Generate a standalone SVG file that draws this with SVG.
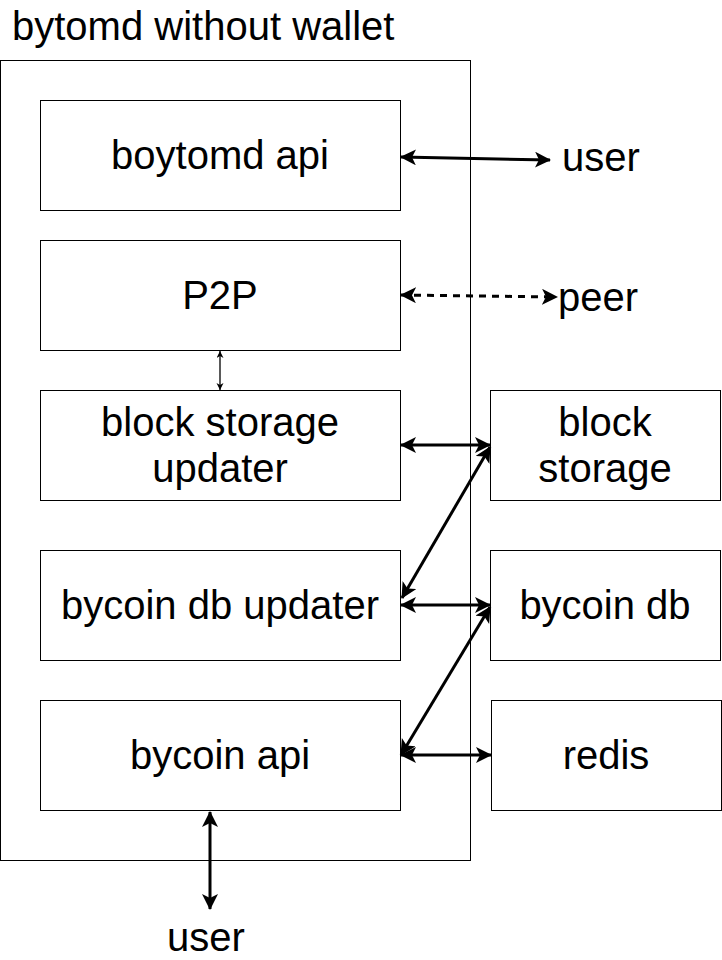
<svg xmlns="http://www.w3.org/2000/svg" width="722" height="960" viewBox="0 0 722 960">
<style>
.box{fill:#fff;stroke:#000;stroke-width:1}
.lbl{font-family:"Liberation Sans",Arial,sans-serif;font-size:40px;fill:#000;text-anchor:middle}
.c{fill:none;stroke:#000;stroke-width:3}
.thin{fill:none;stroke:#000;stroke-width:1.3}
</style>
<defs>
<marker id="ah" markerUnits="userSpaceOnUse" markerWidth="18" markerHeight="18" refX="15" refY="8" orient="auto-start-reverse" viewBox="0 0 18 18">
<path d="M0,0 L16,8 L0,16 L4,8 Z" fill="#000"/>
</marker>
<marker id="ahs" markerUnits="userSpaceOnUse" markerWidth="8" markerHeight="8" refX="7" refY="3.5" orient="auto-start-reverse" viewBox="0 0 8 8">
<path d="M0,0 L7,3.5 L0,7 L2,3.5 Z" fill="#000"/>
</marker>
</defs>
<rect width="722" height="960" fill="#fff"/>
<g id="title"><text x="12" y="40" font-family="Liberation Sans,Arial,sans-serif" font-size="40">bytomd without wallet</text></g>
<g id="frame"><rect class="box" x="0.5" y="60.5" width="470" height="800"/></g>
<g id="boytomd-api"><rect class="box" x="40.5" y="100.5" width="360" height="110"/><text class="lbl" x="220" y="169">boytomd api</text></g>
<g id="p2p"><rect class="box" x="40.5" y="240.5" width="360" height="110"/><text class="lbl" x="220" y="309">P2P</text></g>
<g id="block-storage-updater"><rect class="box" x="40.5" y="390.5" width="360" height="110"/><text class="lbl" x="220" y="436">block storage</text><text class="lbl" x="220" y="482">updater</text></g>
<g id="bycoin-db-updater"><rect class="box" x="40.5" y="550.5" width="360" height="110"/><text class="lbl" x="220" y="619">bycoin db updater</text></g>
<g id="bycoin-api"><rect class="box" x="40.5" y="700.5" width="360" height="110"/><text class="lbl" x="220" y="769">bycoin api</text></g>
<g id="block-storage"><rect class="box" x="490.5" y="390.5" width="230" height="110"/><text class="lbl" x="605" y="436">block</text><text class="lbl" x="605" y="482">storage</text></g>
<g id="bycoin-db"><rect class="box" x="490.5" y="550.5" width="230" height="110"/><text class="lbl" x="605" y="619">bycoin db</text></g>
<g id="redis"><rect class="box" x="491.5" y="700.5" width="230" height="110"/><text class="lbl" x="606" y="769">redis</text></g>
<g id="user-top"><text class="lbl" x="601" y="171">user</text></g>
<g id="peer"><text class="lbl" x="598" y="311">peer</text></g>
<g id="user-bottom"><text class="lbl" x="206" y="951">user</text></g>
<g id="connectors">
<line class="c" x1="401" y1="157" x2="550" y2="160" marker-start="url(#ah)" marker-end="url(#ah)"/>
<line class="c" x1="401" y1="295" x2="557" y2="297" stroke-dasharray="7 6" marker-start="url(#ah)" marker-end="url(#ah)"/>
<line class="thin" x1="220" y1="351" x2="220" y2="390" marker-start="url(#ahs)" marker-end="url(#ahs)"/>
<line class="c" x1="401" y1="445" x2="490" y2="445" marker-start="url(#ah)" marker-end="url(#ah)"/>
<line class="c" x1="490" y1="447" x2="402" y2="598" marker-start="url(#ah)" marker-end="url(#ah)"/>
<line class="c" x1="401" y1="605" x2="490" y2="605" marker-start="url(#ah)" marker-end="url(#ah)"/>
<line class="c" x1="490" y1="607" x2="401" y2="755" marker-start="url(#ah)" marker-end="url(#ah)"/>
<line class="c" x1="401" y1="755" x2="491" y2="755" marker-start="url(#ah)" marker-end="url(#ah)"/>
<line class="c" x1="210" y1="812" x2="210" y2="909" marker-start="url(#ah)" marker-end="url(#ah)"/>
</g>
</svg>
